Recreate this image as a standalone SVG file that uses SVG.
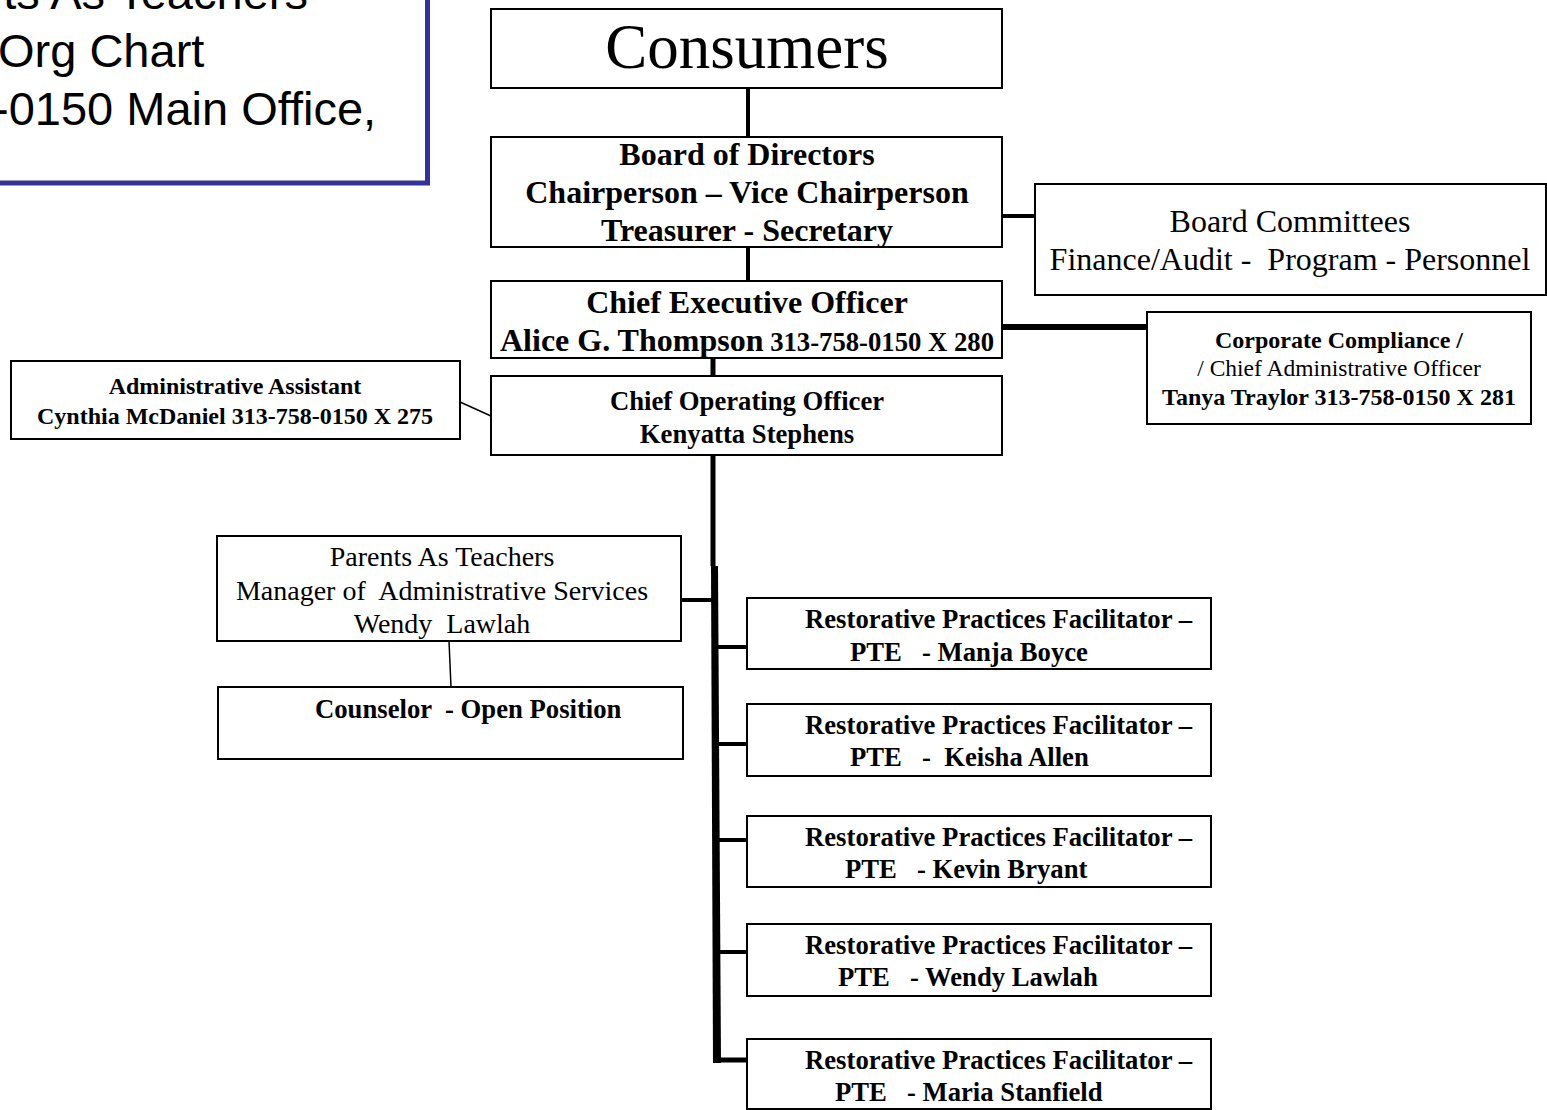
<svg xmlns="http://www.w3.org/2000/svg" width="1547" height="1110" viewBox="0 0 1547 1110">
<style>
.box{fill:#fff;stroke:#000;stroke-width:2}
.t{font-family:"Liberation Serif","Times New Roman",serif;fill:#000}
.b{font-weight:bold}
.c{text-anchor:middle}
.f32{font-size:32px}
.f27{font-size:26.7px}
.f24{font-size:24px}
.f28{font-size:28px}
.conn{stroke:#000;fill:none}
</style>
<rect width="1547" height="1110" fill="#fff"/>
<g id="title">
<rect x="-10" y="-10" width="437.5" height="193" fill="#fff" stroke="#333399" stroke-width="5"/>
<text font-family="Liberation Sans, Arial, sans-serif" font-size="47" fill="#000">
<tspan x="321" y="9" text-anchor="end">ts As Teachers</tspan>
<tspan x="-2" y="67">Org Chart</tspan>
<tspan x="-7" y="125">-0150 Main Office,</tspan>
</text>
</g>
<g id="connectors">
<line class="conn" x1="748" y1="88" x2="748" y2="137" stroke-width="4"/>
<line class="conn" x1="748" y1="247" x2="748" y2="281" stroke-width="4"/>
<line class="conn" x1="1002" y1="216" x2="1035" y2="216" stroke-width="4"/>
<line class="conn" x1="1002" y1="327" x2="1148" y2="327" stroke-width="6"/>
<line class="conn" x1="713" y1="352" x2="713" y2="377" stroke-width="5"/>
<line class="conn" x1="460" y1="402" x2="491" y2="416" stroke-width="1.5"/>
<polygon points="710.5,456 715.5,456 715.5,566 710.5,566" fill="#000"/>
<polygon points="711,566 718,566 721,1063 713,1063" fill="#000"/>
<line class="conn" x1="681" y1="600" x2="713" y2="600" stroke-width="4"/>
<line class="conn" x1="449" y1="641" x2="451" y2="687" stroke-width="1.5"/>
<line class="conn" x1="717" y1="647" x2="747" y2="647" stroke-width="4"/>
<line class="conn" x1="717" y1="744" x2="747" y2="744" stroke-width="4"/>
<line class="conn" x1="718" y1="840" x2="747" y2="840" stroke-width="4"/>
<line class="conn" x1="719" y1="952" x2="747" y2="952" stroke-width="4"/>
<line class="conn" x1="713" y1="1060" x2="747" y2="1060" stroke-width="5"/>
</g>
<g id="consumers">
<rect class="box" x="491" y="9" width="511" height="79"/>
<text class="t c" x="747" y="68" font-size="63">Consumers</text>
</g>
<g id="board">
<rect class="box" x="491" y="137" width="511" height="110"/>
<text class="t b c f32" x="747" y="165">Board of Directors</text>
<text class="t b c f32" x="747" y="203">Chairperson – Vice Chairperson</text>
<text class="t b c f32" x="747" y="241">Treasurer - Secretary</text>
</g>
<g id="committees">
<rect class="box" x="1035" y="184" width="511" height="111"/>
<text class="t c f32" x="1290" y="232">Board Committees</text>
<text class="t c f32" x="1290" y="270" xml:space="preserve">Finance/Audit -  Program - Personnel</text>
</g>
<g id="ceo">
<rect class="box" x="491" y="281" width="511" height="77"/>
<text class="t b c f32" x="747" y="313">Chief Executive Officer</text>
<text class="t b c" x="747" y="351"><tspan class="f32">Alice G. Thompson</tspan><tspan class="f27"> 313-758-0150 X 280</tspan></text>
</g>
<g id="compliance">
<rect class="box" x="1147" y="312" width="384" height="112"/>
<text class="t b c f24" x="1339" y="348">Corporate Compliance /</text>
<text class="t c" x="1339" y="376" font-size="23.5">/ Chief Administrative Officer</text>
<text class="t b c f24" x="1339" y="405">Tanya Traylor 313-758-0150 X 281</text>
</g>
<g id="admin">
<rect class="box" x="11" y="361" width="449" height="78"/>
<text class="t b c f24" x="235" y="394">Administrative Assistant</text>
<text class="t b c f24" x="235" y="424">Cynthia McDaniel 313-758-0150 X 275</text>
</g>
<g id="coo">
<rect class="box" x="491" y="376" width="511" height="79"/>
<text class="t b c f27" x="747" y="410">Chief Operating Officer</text>
<text class="t b c f27" x="747" y="443">Kenyatta Stephens</text>
</g>
<g id="pat">
<rect class="box" x="217" y="536" width="464" height="105"/>
<text class="t c f28" x="442" y="566">Parents As Teachers</text>
<text class="t c f28" x="442" y="600" xml:space="preserve">Manager of  Administrative Services</text>
<text class="t c f28" x="442" y="633" xml:space="preserve">Wendy  Lawlah</text>
</g>
<g id="counselor">
<rect class="box" x="218" y="687" width="465" height="72"/>
<text class="t b f27" x="315" y="718" xml:space="preserve">Counselor  - Open Position</text>
</g>
<g id="rpf1">
<rect class="box" x="747" y="598" width="464" height="71"/>
<text class="t b f27" x="805" y="628">Restorative Practices Facilitator –</text>
<text class="t b f27" x="850" y="661" xml:space="preserve">PTE   - Manja Boyce</text>
</g>
<g id="rpf2">
<rect class="box" x="747" y="704" width="464" height="72"/>
<text class="t b f27" x="805" y="734">Restorative Practices Facilitator –</text>
<text class="t b f27" x="850" y="766" xml:space="preserve">PTE   -  Keisha Allen</text>
</g>
<g id="rpf3">
<rect class="box" x="747" y="816" width="464" height="71"/>
<text class="t b f27" x="805" y="846">Restorative Practices Facilitator –</text>
<text class="t b f27" x="845" y="878" xml:space="preserve">PTE   - Kevin Bryant</text>
</g>
<g id="rpf4">
<rect class="box" x="747" y="924" width="464" height="72"/>
<text class="t b f27" x="805" y="954">Restorative Practices Facilitator –</text>
<text class="t b f27" x="838" y="986" xml:space="preserve">PTE   - Wendy Lawlah</text>
</g>
<g id="rpf5">
<rect class="box" x="747" y="1039" width="464" height="70"/>
<text class="t b f27" x="805" y="1069">Restorative Practices Facilitator –</text>
<text class="t b f27" x="835" y="1101" xml:space="preserve">PTE   - Maria Stanfield</text>
</g>
</svg>
